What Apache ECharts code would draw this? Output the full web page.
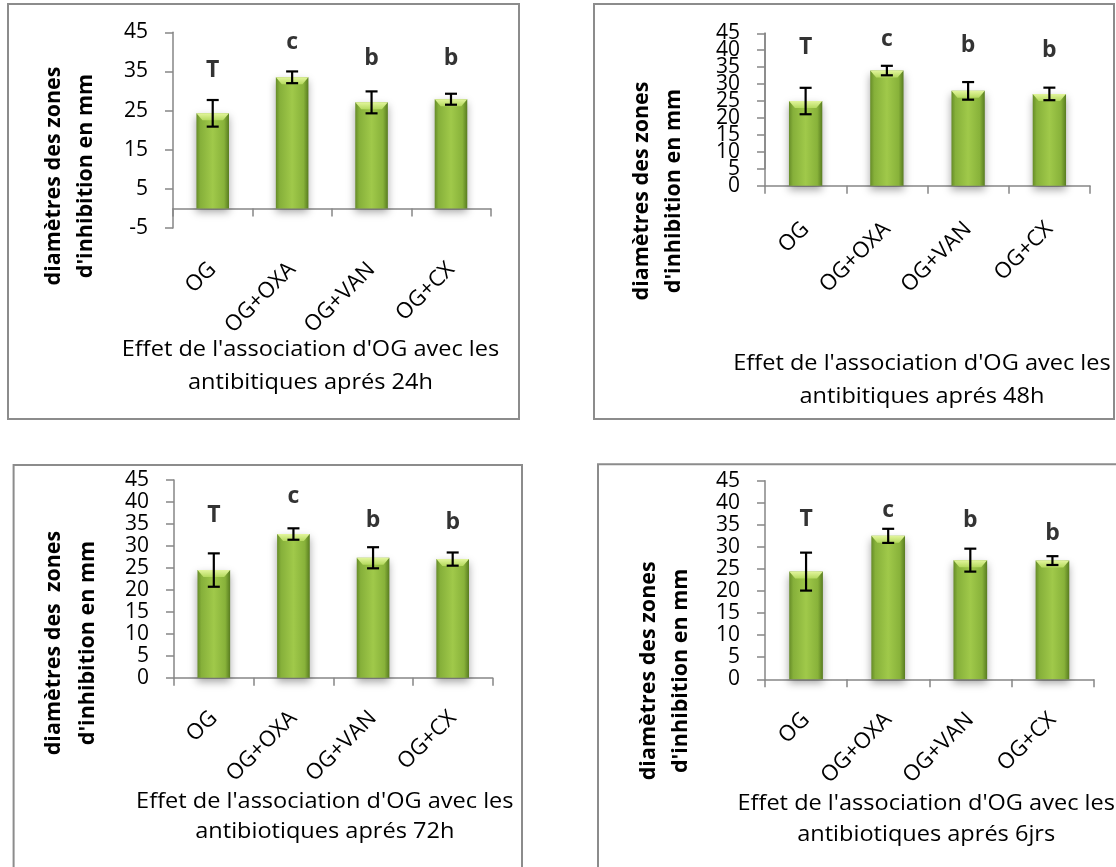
<!DOCTYPE html>
<html>
<head>
<meta charset="utf-8">
<script src="https://cdn.jsdelivr.net/npm/echarts@6/dist/echarts.min.js"></script>
<style>
html,body{margin:0;padding:0;background:#fff;}
#chart{width:1116px;height:867px;}
</style>
</head>
<body>
<div id="chart"></div>
<script>
// ---------- DATA ----------
const categories = ['OG', 'OG+OXA', 'OG+VAN', 'OG+CX'];
const letters = ['T', 'c', 'b', 'b'];

const mean24h = [24.3, 33.5, 27.1, 27.9];
const err24h = [3.4, 1.5, 2.8, 1.4];
const letterY24h = [35.2, 42.4, 38.2, 38.4];

const mean48h = [25.0, 34.0, 28.0, 27.1];
const err48h = [3.9, 1.4, 2.6, 1.85];
const letterY48h = [40.9, 43.2, 41.3, 40.0];

const mean72h = [24.5, 32.7, 27.3, 27.0];
const err72h = [3.8, 1.3, 2.4, 1.5];
const letterY72h = [37.0, 41.2, 35.9, 35.3];

const mean6j = [24.4, 32.5, 27.0, 26.9];
const err6j = [4.3, 1.6, 2.6, 1.0];
const letterY6j = [36.2, 38.3, 36.1, 33.1];

// y axis tick settings (min, max, step) per panel
const yMins = [-5, 0, 0, 0];
const yMaxs = [45, 45, 45, 45];
const ySteps = [10, 5, 5, 5];

const yTitles = [
  "diamètres des zones\nd'inhibition en mm",
  "diamètres des zones\nd'inhibition en mm",
  "diamètres des  zones\nd'inhibition en mm",
  "diamètres des zones\nd'inhibition en mm"
];
const xTitles = [
  "Effet de l'association d'OG avec les\nantibitiques aprés 24h",
  "Effet de l'association d'OG avec les\nantibitiques aprés 48h",
  "Effet de l'association d'OG avec les\nantibiotiques aprés 72h",
  "Effet de l'association d'OG avec les\nantibiotiques aprés 6jrs"
];

// ---------- LAYOUT (pixels) ----------
const panels = [
  {means: mean24h, errs: err24h, lets: letterY24h,
   grid: {left: 173, top: 32.3, width: 317.7, height: 195.7}, labelMargin: 38,
   box: [8, 4, 511, 415], yt: [70, 176, 32], xt: [310.5, 366.5, 33]},
  {means: mean48h, errs: err48h, lets: letterY48h,
   grid: {left: 765, top: 33.3, width: 325, height: 152.4}, labelMargin: 40,
   box: [594, 4, 520, 415], yt: [658, 191, 32], xt: [922, 380, 33.4]},
  {means: mean72h, errs: err72h, lets: letterY72h,
   grid: {left: 174, top: 480, width: 318.5, height: 197.7}, labelMargin: 37,
   box: [13.6, 465, 508.4, 440], yt: [71, 643, 34], xt: [324.8, 816.7, 30]},
  {means: mean6j, errs: err6j, lets: letterY6j,
   grid: {left: 765, top: 480.7, width: 328.5, height: 198.6}, labelMargin: 37,
   box: [598, 464.3, 560, 440], yt: [665, 670.8, 32], xt: [926.2, 819.2, 31.7]}
];

const FONT = '"Open Sans", "Liberation Sans", sans-serif';
const AXIS_COLOR = '#868686';
const BAR_WIDTH_RATIO = 0.41;

const barGradient = new echarts.graphic.LinearGradient(0, 0, 1, 0, [
  {offset: 0, color: '#668c28'},
  {offset: 0.12, color: '#86b03a'},
  {offset: 0.5, color: '#a0c94a'},
  {offset: 0.85, color: '#88b23a'},
  {offset: 1, color: '#587c20'}
]);
const bevelGradient = new echarts.graphic.LinearGradient(0, 0, 0, 1, [
  {offset: 0, color: '#e2f59c'},
  {offset: 1, color: '#b4d95e'}
]);

const grids = [], xAxes = [], yAxes = [], series = [], graphics = [];

const axisLineStyle = {color: AXIS_COLOR, width: 1.5};
const yLabelBase = {fontSize: 21, color: '#000', fontFamily: FONT, margin: 25};

panels.forEach((p, k) => {
  grids.push(Object.assign({containLabel: false}, p.grid));
  xAxes.push({
    type: 'category', gridIndex: k, data: categories,
    axisLine: {onZero: true, lineStyle: axisLineStyle},
    axisTick: {show: true, length: 8, lineStyle: axisLineStyle},
    axisLabel: {rotate: 45, margin: p.labelMargin, fontSize: 22, color: '#000', fontFamily: FONT, interval: 0},
    splitLine: {show: false}
  });
  // Panel 2 has tightly packed (overlapping) tick labels: split them across two aligned axes
  const split = (k === 1);
  yAxes.push({
    type: 'value', gridIndex: k, position: 'left',
    min: yMins[k], max: yMaxs[k], interval: split ? ySteps[k] * 2 : ySteps[k],
    axisLine: {show: true, onZero: false, lineStyle: axisLineStyle},
    axisTick: {show: true, length: 8, lineStyle: axisLineStyle},
    axisLabel: Object.assign({showMinLabel: true, showMaxLabel: !split}, yLabelBase),
    splitLine: {show: false}
  });
  series.push({
    type: 'bar', xAxisIndex: k, yAxisIndex: k, data: p.means,
    barWidth: (BAR_WIDTH_RATIO * 100) + '%', z: 2,
    itemStyle: {color: barGradient, shadowBlur: 8, shadowColor: 'rgba(0,0,0,0.35)', shadowOffsetY: 4}
  });
  series.push({
    type: 'custom', xAxisIndex: k, yAxisIndex: k, z: 3,
    data: p.means.map((v, i) => [i, v]),
    renderItem: function (params, api) {
      const pt = api.coord([api.value(0), api.value(1)]);
      const w = api.size([1, 0])[0] * BAR_WIDTH_RATIO;
      const h = 7;
      return {
        type: 'polygon',
        shape: {points: [[pt[0] - w / 2, pt[1]], [pt[0] + w / 2, pt[1]],
                         [pt[0] + w / 2 - 6, pt[1] + h], [pt[0] - w / 2 + 6, pt[1] + h]]},
        style: {fill: bevelGradient}
      };
    }
  });
  series.push({
    type: 'custom', xAxisIndex: k, yAxisIndex: k, z: 4,
    data: p.means.map((v, i) => [i, v, p.errs[i]]),
    renderItem: function (params, api) {
      const i = api.value(0), v = api.value(1), e = api.value(2);
      const top = api.coord([i, v + e]);
      const bot = api.coord([i, v - e]);
      const c = 6;
      const st = {stroke: '#000', lineWidth: 2.2};
      return {type: 'group', children: [
        {type: 'line', shape: {x1: top[0], y1: top[1], x2: bot[0], y2: bot[1]}, style: st},
        {type: 'line', shape: {x1: top[0] - c, y1: top[1], x2: top[0] + c, y2: top[1]}, style: st},
        {type: 'line', shape: {x1: bot[0] - c, y1: bot[1], x2: bot[0] + c, y2: bot[1]}, style: st}
      ]};
    }
  });
  series.push({
    type: 'scatter', xAxisIndex: k, yAxisIndex: k, z: 5,
    symbolSize: 0, silent: true,
    data: p.lets.map((y, i) => [i, y]),
    label: {show: true, position: 'inside', formatter: (d) => letters[d.dataIndex],
            fontSize: 23, fontWeight: 'bold', color: '#000', fontFamily: FONT}
  });

  graphics.push({
    type: 'rect', silent: true, z: 0,
    shape: {x: p.box[0], y: p.box[1], width: p.box[2], height: p.box[3]},
    style: {fill: 'none', stroke: '#8c8c8c', lineWidth: 2}
  });
  graphics.push({
    type: 'text', x: p.yt[0], y: p.yt[1], rotation: Math.PI / 2,
    style: {text: yTitles[k], font: 'bold 21.5px ' + FONT, fill: '#000',
            align: 'center', verticalAlign: 'middle', lineHeight: p.yt[2]}
  });
  graphics.push({
    type: 'text', x: p.xt[0], y: p.xt[1], scaleX: 1.07,
    style: {text: xTitles[k], font: '22px ' + FONT, fill: '#000',
            align: 'center', verticalAlign: 'middle', lineHeight: p.xt[2]}
  });
});

// Secondary aligned axis for panel 2: the odd ticks (min + step .. max, every 2 steps)
(function () {
  const k = 1, g = panels[k].grid;
  const oddMin = yMins[k] + ySteps[k];
  const frac = (yMaxs[k] - oddMin) / (yMaxs[k] - yMins[k]);
  grids.push({left: g.left, top: g.top, width: g.width, height: g.height * frac, containLabel: false});
  const gi = grids.length - 1;
  xAxes.push({type: 'category', gridIndex: gi, data: categories, show: false});
  yAxes.push({
    type: 'value', gridIndex: gi, position: 'left',
    min: oddMin, max: yMaxs[k], interval: ySteps[k] * 2,
    axisLine: {show: true, onZero: false, lineStyle: axisLineStyle},
    axisTick: {show: true, length: 8, lineStyle: axisLineStyle},
    axisLabel: Object.assign({showMinLabel: true, showMaxLabel: true}, yLabelBase),
    splitLine: {show: false}
  });
})();

const chart = echarts.init(document.getElementById('chart'), null, {renderer: 'canvas'});
chart.setOption({
  backgroundColor: '#fff',
  animation: false,
  grid: grids, xAxis: xAxes, yAxis: yAxes, series: series,
  graphic: graphics
});
</script>
</body>
</html>
